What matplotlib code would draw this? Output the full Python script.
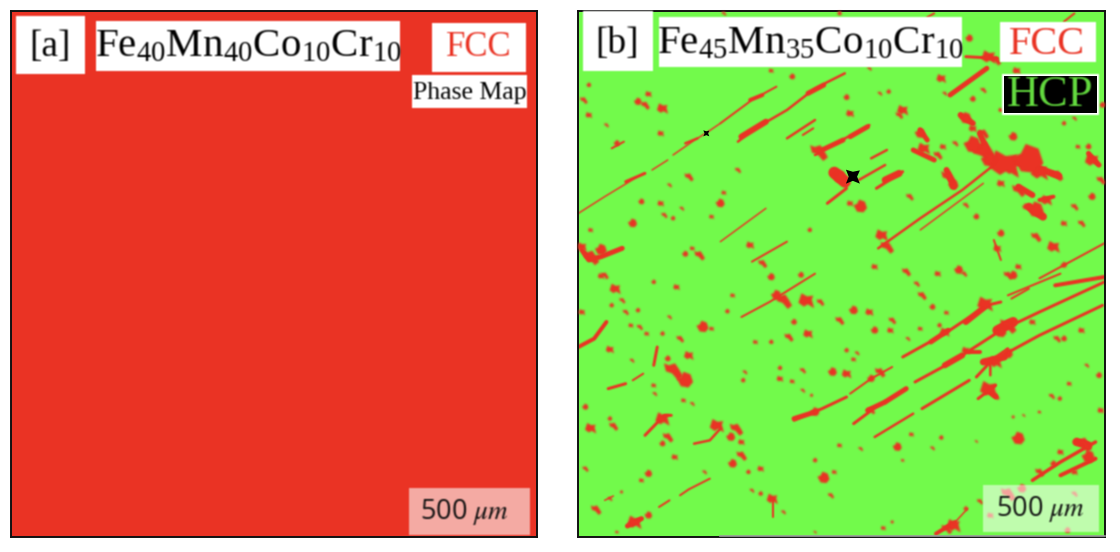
import matplotlib
matplotlib.use('Agg')
import numpy as np
import matplotlib.pyplot as plt
from matplotlib.collections import LineCollection
from matplotlib.patches import Rectangle
from matplotlib.path import Path

plt.rcParams['font.family'] = ['Liberation Serif', 'DejaVu Sans']
plt.rcParams['mathtext.fontset'] = 'custom'
plt.rcParams['mathtext.rm'] = 'Liberation Serif'
plt.rcParams['mathtext.it'] = 'Liberation Serif:italic'

RED = '#ea3324'
GREEN = '#72fa4b'
PX_W, PX_H = 1120, 552

# map coordinates: x along the scan, y down
MAP_XLIM = (24, 1527)
MAP_YLIM = (1611, 33)
LOWER = 816  # y shift of the lower half readings

# fcc streaks, (width, points)
streaks_upper = [
    (1.5, [(25, 640), (100, 590), (210, 520)]),
    (3.0, [(160, 545), (215, 520)]),
    (1.5, [(235, 510), (280, 480)]),
    (1.5, [(295, 465), (350, 425), (395, 395), (430, 370)]),
    (2.5, [(330, 430), (365, 415)]),
    (2.0, [(430, 370), (520, 300), (590, 260)]),
    (4.0, [(515, 300), (550, 285)]),
    (2.5, [(480, 425), (530, 385), (620, 330), (700, 265), (785, 220)]),
    (6.0, [(490, 410), (560, 365)]),
    (5.0, [(680, 280), (725, 255)]),
    (2.5, [(620, 415), (700, 360)]),
    (2.0, [(665, 405), (695, 385)]),
    (2.5, [(700, 465), (760, 430), (855, 375)]),
    (5.0, [(720, 450), (780, 420)]),
    (5.0, [(800, 410), (850, 380)]),
    (2.5, [(860, 475), (905, 450)]),
    (2.5, [(825, 540), (900, 495)]),
    (3.0, [(875, 565), (950, 515)]),
    (7.0, [(900, 540), (940, 520)]),
    (3.0, [(735, 610), (790, 565)]),
    (12.0, [(755, 518), (785, 545)]),
    (1.5, [(430, 725), (560, 625)]),
    (2.5, [(880, 745), (1000, 655), (1120, 570), (1210, 495)]),
    (1.5, [(1000, 690), (1180, 550)]),
    (5.0, [(1085, 285), (1190, 205)]),
    (3.0, [(1130, 170), (1220, 175)]),
    (6.0, [(1170, 400), (1190, 450)]),
    (5.0, [(980, 450), (1040, 480)]),
    (6.0, [(1075, 510), (1095, 560)]),
    (6.0, [(1280, 560), (1320, 585)]),
    (8.0, [(1310, 620), (1350, 650)]),
    (4.0, [(1340, 600), (1380, 590)]),
    (6.0, [(1115, 345), (1150, 370)]),
    (5.0, [(1000, 390), (1020, 420)]),
    (5.0, [(1480, 460), (1510, 495)]),
    (7.0, [(1210, 480), (1300, 490), (1395, 528)]),
    (2.0, [(520, 785), (620, 725)]),
    (2.0, [(1340, 835), (1525, 730)]),
    (5.0, [(35, 750), (55, 780), (90, 770), (150, 745)]),
    (2.0, [(1040, 40), (1020, 52)]),
    (2.0, [(1440, 40), (1410, 65)]),
    (2.0, [(120, 445), (155, 425)]),
    (2.0, [(1210, 720), (1230, 780)]),
]
streaks_lower = [
    (2.0, [(490, 135), (570, 90), (700, 5)]),
    (4.0, [(25, 225), (70, 200), (105, 150)]),
    (3.0, [(950, 255), (1070, 185), (1190, 100), (1230, 90)]),
    (6.0, [(1130, 150), (1190, 100)]),
    (5.0, [(1030, 210), (1080, 175)]),
    (3.0, [(640, 445), (720, 410), (790, 375)]),
    (5.0, [(640, 440), (700, 420)]),
    (2.0, [(800, 365), (860, 320), (920, 285)]),
    (3.0, [(810, 455), (880, 400), (960, 350)]),
    (5.0, [(850, 415), (900, 390)]),
    (5.0, [(900, 390), (960, 350)]),
    (3.0, [(985, 330), (1090, 270), (1230, 175), (1340, 120), (1525, 30)]),
    (6.0, [(1070, 280), (1120, 250)]),
    (4.0, [(1130, 240), (1170, 240)]),
    (10.0, [(1220, 175), (1265, 150)]),
    (2.5, [(870, 495), (980, 425)]),
    (3.0, [(1005, 410), (1140, 325)]),
    (3.0, [(1160, 315), (1200, 270), (1340, 190), (1520, 100)]),
    (7.0, [(1180, 270), (1240, 255)]),
    (2.0, [(1250, 70), (1400, 5)]),
    (4.0, [(1385, 40), (1525, 15)]),
    (4.0, [(1045, 785), (1100, 750)]),
    (1.5, [(1100, 750), (1135, 710)]),
    (3.5, [(1320, 625), (1400, 570), (1500, 510)]),
    (8.0, [(1445, 510), (1480, 520)]),
    (4.0, [(1400, 610), (1500, 560)]),
    (3.0, [(110, 350), (160, 335)]),
    (2.0, [(180, 325), (210, 305)]),
    (3.0, [(215, 490), (270, 430), (290, 430)]),
    (2.5, [(355, 515), (400, 505), (430, 470)]),
    (2.0, [(255, 705), (285, 685)]),
    (1.5, [(100, 685), (125, 672)]),
    (5.0, [(165, 762), (205, 740)]),
    (2.0, [(315, 670), (340, 652), (400, 620)]),
    (3.0, [(240, 280), (250, 225)]),
    (2.0, [(580, 680), (580, 735)]),
    (3.0, [(1165, 380), (1215, 340)]),
    (5.0, [(1190, 355), (1215, 375)]),
    (2.5, [(1200, 310), (1200, 265), (1250, 230)]),
    (2.0, [(1260, 80), (1310, 50)]),
]

# fcc blobs, (x, y, diameter)
blobs_upper = [
    (265, 325, 6), (215, 315, 5), (195, 305, 4), (225, 282, 3), (40, 300, 4), (55, 255, 2), (55, 345, 3),
    (105, 375, 2), (135, 430, 3), (260, 400, 3), (340, 530, 5), (430, 610, 5), (440, 578, 2), (285, 555, 2),
    (205, 605, 3), (260, 610, 3), (270, 645, 3), (180, 670, 5), (60, 690, 2), (320, 625, 2), (295, 655, 2),
    (405, 650, 2), (480, 510, 3), (790, 292, 3), (800, 340, 4), (885, 280, 2), (910, 275, 2), (950, 330, 6),
    (940, 345, 4), (1000, 400, 6), (1010, 445, 7), (1050, 465, 5), (1130, 355, 7), (1150, 385, 4),
    (1180, 400, 6), (1265, 410, 5), (1275, 212, 4), (1180, 270, 3), (1150, 297, 3), (1060, 235, 5),
    (1070, 280, 2), (1140, 115, 4), (1490, 480, 8), (1515, 540, 5), (1480, 440, 3), (1450, 440, 2),
    (1280, 570, 8), (1330, 630, 10), (1360, 600, 6), (1440, 620, 4), (1490, 590, 4), (1410, 670, 3),
    (1460, 670, 4), (1300, 620, 3), (1380, 740, 7), (1330, 710, 6), (1230, 700, 4), (1220, 745, 4),
    (1130, 615, 3), (1160, 650, 3), (1230, 550, 4), (1080, 530, 9), (1095, 555, 6), (890, 705, 7),
    (905, 740, 8), (830, 620, 8), (800, 610, 3), (970, 590, 4), (685, 690, 2), (515, 735, 4), (370, 765, 6),
    (330, 762, 3), (350, 745, 2), (60, 770, 10), (90, 750, 7), (35, 740, 5), (550, 790, 5), (660, 825, 3),
    (870, 800, 3), (960, 815, 5), (1110, 810, 5), (1280, 800, 3), (1250, 825, 5), (1410, 795, 3), (90, 828, 3),
    (440, 40, 2), (770, 40, 2), (575, 212, 2), (855, 205, 2), (635, 230, 3), (1195, 170, 8), (1215, 180, 6),
    (1520, 315, 3), (1230, 330, 2), (1440, 355, 2), (1410, 370, 2), (1065, 440, 3), (1100, 430, 3),
    (1310, 480, 20), (1240, 490, 18), (1180, 455, 18), (1150, 435, 11), (1340, 515, 10), (1390, 525, 7),
    (1195, 480, 9), (1260, 505, 8), (710, 455, 11), (770, 530, 8),
]
blobs_lower = [
    (130, 50, 6), (100, 10, 4), (240, 30, 2), (305, 45, 3), (150, 85, 3), (120, 100, 2), (35, 120, 3),
    (160, 120, 3), (195, 115, 2), (175, 160, 2), (200, 165, 3), (380, 165, 7), (405, 170, 2), (285, 135, 2),
    (450, 118, 2), (465, 70, 2), (610, 85, 10), (590, 70, 6), (675, 85, 9), (715, 90, 4), (640, 150, 3),
    (680, 185, 5), (625, 195, 5), (575, 210, 2), (530, 210, 2), (770, 145, 5), (810, 115, 5), (855, 120, 4),
    (920, 145, 4), (870, 175, 4), (915, 175, 3), (1005, 70, 5), (1035, 105, 3), (1075, 122, 2), (990, 35, 3),
    (1055, 160, 2), (1000, 170, 2), (965, 200, 2), (790, 235, 2), (810, 262, 2), (820, 243, 2), (750, 300, 5),
    (790, 305, 5), (665, 295, 3), (600, 288, 2), (600, 320, 3), (500, 300, 2), (495, 325, 2), (635, 328, 2),
    (665, 355, 2), (690, 370, 1), (115, 232, 4), (178, 265, 2), (280, 260, 3), (340, 250, 5), (315, 200, 4),
    (265, 185, 2), (220, 185, 2), (295, 295, 12), (330, 325, 10), (240, 340, 2), (243, 365, 2), (335, 340, 2),
    (325, 385, 2), (350, 395, 2), (45, 405, 3), (60, 468, 6), (125, 462, 5), (115, 440, 2), (265, 440, 8),
    (280, 495, 6), (265, 515, 3), (420, 460, 8), (475, 470, 8), (460, 495, 5), (490, 510, 3), (490, 550, 6),
    (465, 575, 5), (300, 555, 3), (45, 590, 3), (225, 605, 4), (205, 625, 2), (385, 600, 2), (510, 600, 2),
    (545, 590, 3), (520, 655, 2), (545, 665, 2), (578, 680, 6), (610, 720, 2), (725, 618, 7), (755, 600, 2),
    (745, 670, 3), (700, 565, 2), (770, 520, 2), (830, 530, 2), (935, 525, 5), (950, 565, 1), (1035, 528, 2),
    (1060, 497, 2), (975, 487, 2), (1160, 508, 1), (1280, 500, 8), (1195, 350, 10), (1215, 372, 4),
    (1250, 245, 6), (1320, 150, 3), (1475, 280, 2), (1510, 310, 3), (1425, 335, 2), (1375, 372, 3),
    (1398, 380, 2), (1515, 415, 3), (1295, 430, 1), (1265, 435, 1), (1340, 420, 1), (1390, 200, 4),
    (1410, 200, 3), (1460, 175, 3), (1465, 515, 10), (1480, 555, 8), (1400, 540, 3), (1340, 600, 5),
    (1380, 575, 3), (1440, 600, 3), (1170, 688, 3), (1130, 710, 2), (1095, 760, 8), (1075, 770, 6),
    (920, 750, 1), (895, 768, 2), (75, 712, 6), (225, 730, 4), (185, 750, 8), (115, 680, 2), (148, 660, 1),
    (135, 780, 1), (700, 780, 1), (1265, 10, 5), (1050, 5, 3), (1125, 5, 3), (575, 15, 4), (1185, 95, 9),
    (1250, 160, 10), (1230, 180, 7), (1070, 180, 5), (885, 300, 6), (860, 320, 4), (1130, 235, 4),
    (860, 415, 4), (700, 420, 5), (1215, 270, 7), (1250, 665, 9), (1290, 650, 5), (1200, 730, 3),
    (1440, 665, 3), (1420, 775, 3),
]

# hcp grains
hcp_x = [390, 808]
hcp_y = [400, 530]
hcp_d = [6, 14]

# rough grain outlines, so the specks are not perfect circles
GRAIN_SHAPES = [
    Path([(-1, -0.3), (-0.3, -0.8), (0.2, -0.5), (1, -1), (0.7, 0.1), (0.9, 0.6), (0.1, 0.5), (-0.6, 0.9), (-1, -0.3)]),
    Path([(-0.9, 0.7), (-0.7, -0.1), (-0.1, -0.3), (0.5, -1), (1, -0.6), (0.6, 0.1), (0.2, 0.7), (-0.4, 0.5), (-0.9, 0.7)]),
    Path([(-1, 0.2), (-0.5, -0.7), (0.4, -0.8), (0.9, -0.2), (0.6, 0.7), (-0.2, 1), (-0.5, 0.4), (-1, 0.2)]),
]
HCP_SHAPE = Path([(-1, -1), (0, -0.6), (1, -1), (0.6, 0), (1, 0.9), (0, 0.7), (-1, 1), (-0.6, 0), (-1, -1)])


def soften(img, dpi):
    # the source picture is a slightly blurred screenshot
    pad = 2
    a = np.pad(img, ((pad, pad), (pad, pad), (0, 0)))
    a[..., :3] *= a[..., 3:4]
    for axis in (0, 1):
        a = 0.25 * np.roll(a, 1, axis) + 0.5 * a + 0.25 * np.roll(a, -1, axis)
    a[..., :3] /= np.maximum(a[..., 3:4], 1e-4)
    return np.clip(a, 0, 1), -pad, -pad


def scatter_px(ax, x, y, d, color):
    # diameter given in pixels, scatter wants points^2
    x, y, d = np.array(x), np.array(y), np.array(d)
    s = ((d + 1.5) * 0.72 * 1.5) ** 2
    for i, shape in enumerate(GRAIN_SHAPES):
        pick = np.arange(len(x)) % len(GRAIN_SHAPES) == i
        sc = ax.scatter(x[pick], y[pick], s=s[pick], c=color, linewidths=0, zorder=3, marker=shape)
        sc.set_agg_filter(soften)


def label_box(ax, x0, y0, x1, y1, color='white', alpha=1.0):
    r = Rectangle((x0, y0), x1 - x0, y1 - y0, fc=color, ec='none', alpha=alpha, zorder=5)
    r.set_agg_filter(soften)
    ax.add_patch(r)


fig = plt.figure(figsize=(PX_W / 100, PX_H / 100), dpi=100, facecolor='white')


def panel_axes(x0, y0, x1, y1):
    return fig.add_axes([x0 / PX_W, 1 - y1 / PX_H, (x1 - x0) / PX_W, (y1 - y0) / PX_H])


# panel a is all fcc
ax_a = panel_axes(11, 11, 537, 537)
ax_a.set_facecolor(RED)
ax_a.set_xticks([])
ax_a.set_yticks([])

# panel b, fcc on green matrix
ax_b = panel_axes(578, 11, 1105, 537)
ax_b.set_facecolor(GREEN)
ax_b.set_xlim(*MAP_XLIM)
ax_b.set_ylim(*MAP_YLIM)
ax_b.set_xticks([])
ax_b.set_yticks([])

all_streaks = streaks_upper + [(w, [(x, y + LOWER) for x, y in pts]) for w, pts in streaks_lower]
lc = LineCollection([pts for w, pts in all_streaks], linewidths=[w * 0.72 for w, pts in all_streaks],
                    colors=RED, capstyle='round', joinstyle='round', zorder=2)
lc.set_agg_filter(soften)
ax_b.add_collection(lc)

bx, by, bd = zip(*blobs_upper)
scatter_px(ax_b, bx, by, bd, RED)
bx, by, bd = zip(*blobs_lower)
scatter_px(ax_b, bx, [y + LOWER for y in by], bd, RED)
ax_b.scatter(hcp_x, hcp_y, s=(np.array(hcp_d) * 0.72) ** 2, c='black', linewidths=0, marker=HCP_SHAPE, zorder=4)

for ax in (ax_a, ax_b):
    for sp in ax.spines.values():
        sp.set_linewidth(1.4)
        sp.set_color('#111111')

# overlay in picture pixels for the pasted labels
ov = fig.add_axes([0, 0, 1, 1])
ov.set_xlim(0, PX_W)
ov.set_ylim(PX_H, 0)
ov.axis('off')
ov.patch.set_alpha(0)

serif = dict(ha='center', va='center', zorder=6)
scale_font = dict(ha='center', va='center', zorder=6, family='Open Sans', math_fontfamily='stix')

label_box(ov, 16, 16, 85, 74)
label_box(ov, 96, 21, 400, 71)
label_box(ov, 432, 23, 526, 72)
label_box(ov, 412, 75, 527, 108)
label_box(ov, 409, 488, 530, 535, color='#f4aaa3')
label_box(ov, 583, 11, 653, 71)
label_box(ov, 659, 17, 962, 67)
label_box(ov, 1000, 22, 1096, 62)
label_box(ov, 1002, 74, 1099, 115)
ov.add_patch(Rectangle((1004, 76), 93, 37, fc='black', ec='none', zorder=5.5))
label_box(ov, 983, 485, 1099, 532, color='white', alpha=0.55)

labels = [
    ov.text(50, 47, '[a]', fontsize=27, color='black', **serif),
    ov.text(248, 47, r'Fe$_{40}$Mn$_{40}$Co$_{10}$Cr$_{10}$', fontsize=29.5, color='black', **serif),
    ov.text(479, 48, 'FCC', fontsize=25, color=RED, **serif),
    ov.text(469.5, 93, 'Phase Map', fontsize=18.5, color='black', **serif),
    ov.text(464, 512, r'500 $\mu m$', fontsize=19.5, color='#111111', **scale_font),
    ov.text(617, 44, '[b]', fontsize=27, color='black', **serif),
    ov.text(810, 44, r'Fe$_{45}$Mn$_{35}$Co$_{10}$Cr$_{10}$', fontsize=29.5, color='black', **serif),
    ov.text(1047, 44, 'FCC', fontsize=29, color=RED, **serif),
    ov.text(1050, 95, 'HCP', fontsize=32, color='#62d83e', **serif),
    ov.text(1040, 509, r'500 $\mu m$', fontsize=19.5, color='#111111', **scale_font),
]
for t in labels:
    t.set_agg_filter(soften)

# bottom edge of panel b is partly grey
ov.plot([720, 1105], [536, 536], color='#9a9a9a', lw=1.2, zorder=7)

fig.savefig('out.png', dpi=100)
